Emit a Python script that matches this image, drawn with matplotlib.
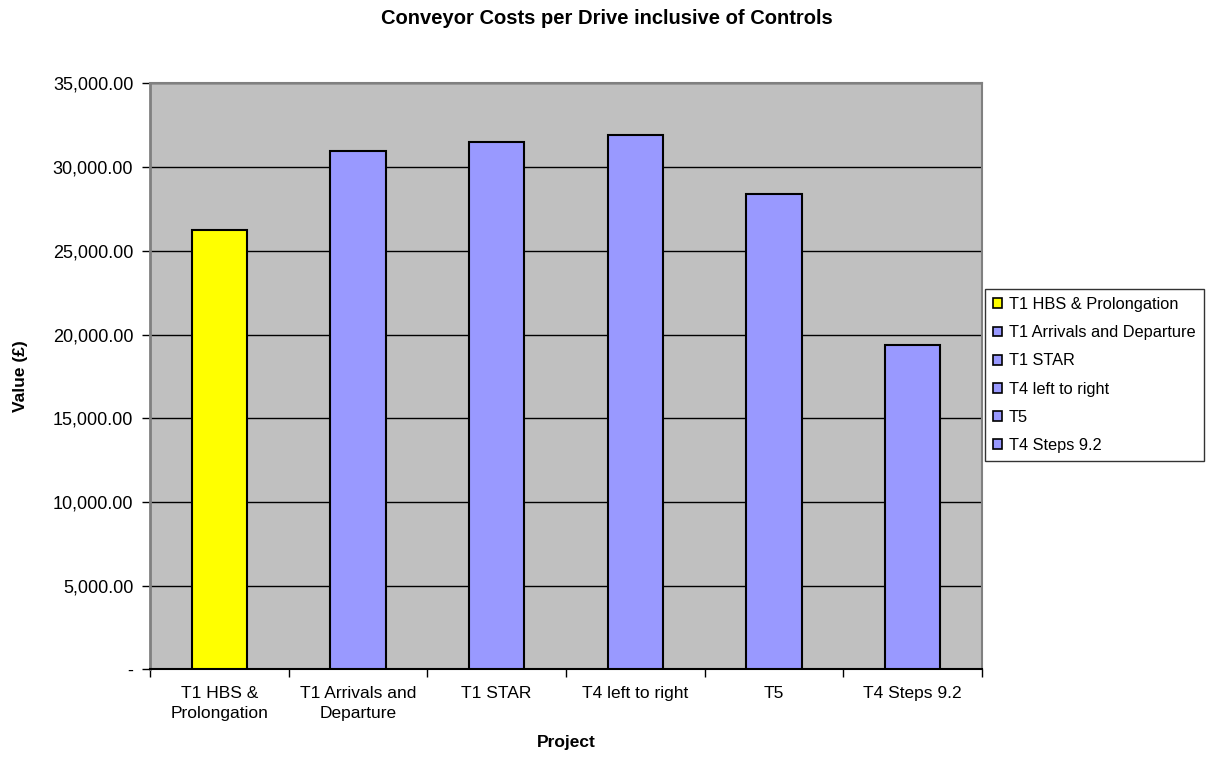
import numpy as np
import matplotlib
matplotlib.use("Agg")
import matplotlib.pyplot as plt
from matplotlib.patches import Patch
from matplotlib.ticker import FuncFormatter, FixedLocator

plt.rcParams["font.family"] = ["Liberation Sans", "DejaVu Sans"]

projects = ["T1 HBS & Prolongation", "T1 Arrivals and Departure", "T1 STAR",
            "T4 left to right", "T5", "T4 Steps 9.2"]
tick_labels = ["T1 HBS &\nProlongation", "T1 Arrivals and\nDeparture", "T1 STAR",
               "T4 left to right", "T5", "T4 Steps 9.2"]
values = [26250, 30950, 31520, 31920, 28400, 19400]
colors = ["#ffff00", "#9999ff", "#9999ff", "#9999ff", "#9999ff", "#9999ff"]

fig = plt.figure(figsize=(12.15, 7.6), dpi=100, facecolor="w")
ax = fig.add_axes([150/1215, 1 - 669.3/760, 832/1215, (669.3 - 83.4)/760])
ax.set_facecolor("#c0c0c0")

x = np.arange(len(values))
ax.bar(x, values, width=0.4, color=colors, edgecolor="black", lw=1.5, zorder=3)

ax.set_xlim(-0.5, len(values) - 0.5)
ax.set_ylim(0, 35000)
ax.set_yticks(np.arange(0, 35001, 5000))
ax.yaxis.set_major_formatter(FuncFormatter(lambda v, p: "-" if v == 0 else f"{v:,.2f}"))
ax.grid(axis="y", color="black", lw=1, zorder=1)

ax.set_xticks(x)
ax.set_xticklabels(tick_labels, fontsize=12.5, linespacing=1.45)
ax.xaxis.set_minor_locator(FixedLocator(np.arange(-0.5, len(values), 1)))
ax.tick_params(axis="x", which="major", length=0, pad=12)
ax.tick_params(axis="x", which="minor", length=6, width=1, color="black", direction="out")
ax.tick_params(axis="y", length=6, width=1, labelsize=13, pad=6)

for side in ["top", "right"]:
    ax.spines[side].set_color("#808080")
    ax.spines[side].set_linewidth(1.5)
ax.spines["left"].set_color("#808080")
ax.spines["left"].set_linewidth(2)
ax.spines["bottom"].set_color("black")
ax.spines["bottom"].set_linewidth(1.5)

ax.set_xlabel("Project", fontsize=12.5, fontweight="bold", labelpad=10)
fig.text(20/1215, 1 - 376/760, "Value (£)", rotation=90, ha="center", va="center",
         fontsize=12.5, fontweight="bold")
fig.text(607/1215, 1 - 18/760, "Conveyor Costs per Drive inclusive of Controls",
         ha="center", va="center", fontsize=14.5, fontweight="bold")

handles = [Patch(facecolor=c, edgecolor="black", lw=1.2) for c in colors]
leg = fig.legend(handles, projects, loc="upper left",
                 bbox_to_anchor=(985/1215, 1 - 289/760), fontsize=11.8,
                 frameon=True, fancybox=False, edgecolor="black",
                 handlelength=0.55, handleheight=0.55, handletextpad=0.4,
                 labelspacing=0.8, borderpad=0.5, borderaxespad=0)
leg.get_frame().set_linewidth(1)

fig.savefig("out.png", dpi=100)
